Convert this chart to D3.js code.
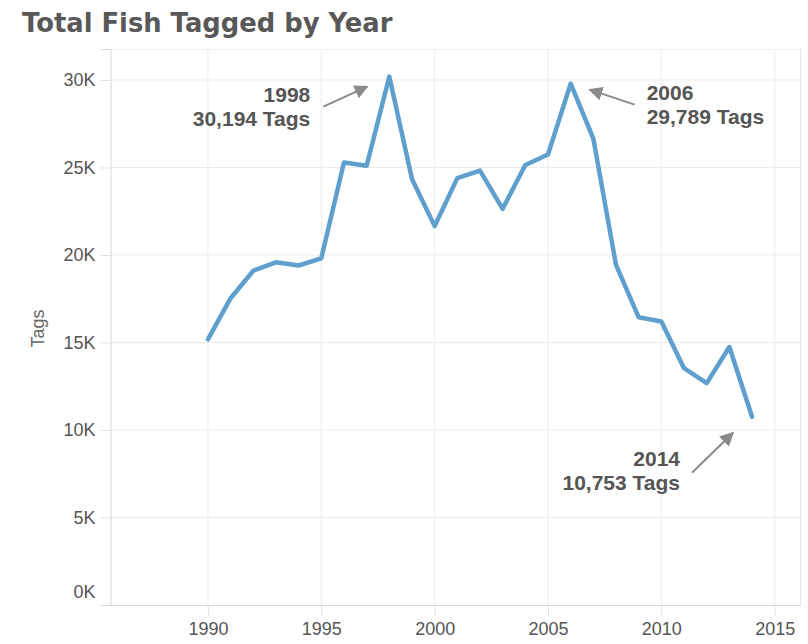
<!DOCTYPE html>
<html>
<head>
<meta charset="utf-8">
<script src="https://cdnjs.cloudflare.com/ajax/libs/d3/7.8.5/d3.min.js"></script>
<style>
  body { margin: 0; background: #fff; }
  svg { display: block; }
</style>
</head>
<body>
<div id="chart"></div>
<script>
// data
var years = [1990, 1991, 1992, 1993, 1994, 1995, 1996, 1997, 1998, 1999, 2000, 2001,
             2002, 2003, 2004, 2005, 2006, 2007, 2008, 2009, 2010, 2011, 2012, 2013, 2014];
var tags = [15180, 17530, 19100, 19580, 19400, 19810, 25280, 25100, 30194, 24340, 21650, 24390,
            24820, 22640, 25140, 25740, 29789, 26650, 19430, 16440, 16200, 13530, 12680, 14740, 10753];

var yTicks = [0, 5000, 10000, 15000, 20000, 25000, 30000];
var xTicks = [1990, 1995, 2000, 2005, 2010, 2015];

var noteYears = [1998, 2006, 2014];
var noteLabels = ["30,194 Tags", "29,789 Tags", "10,753 Tags"];

var W = 808, H = 644;
var pane = { left: 110, right: 801, top: 49, bottom: 605 };

var svg = d3.select('#chart').append('svg')
  .attr('width', W)
  .attr('height', H);

var x = d3.scaleLinear()
  .domain([1985.68, 2016.16])
  .range([pane.left, pane.right]);

var y = d3.scaleLinear()
  .domain([0, 31770])
  .range([pane.bottom, pane.top]);

// title
svg.append('text')
  .attr('x', 22)
  .attr('y', 32)
  .style('font-family', 'DejaVu Sans, sans-serif')
  .style('font-weight', 'bold')
  .style('font-size', '25.8px')
  .style('fill', '#585858')
  .text('Total Fish Tagged by Year');

// gridlines
var grid = svg.append('g');
grid.selectAll('.hgrid').data(yTicks.filter(function (d) { return d > 0; }))
  .enter().append('line')
  .attr('x1', pane.left).attr('x2', pane.right)
  .attr('y1', function (d) { return y(d); })
  .attr('y2', function (d) { return y(d); })
  .style('stroke', '#ececec').style('stroke-width', 1);
grid.selectAll('.vgrid').data(xTicks)
  .enter().append('line')
  .attr('y1', pane.top).attr('y2', pane.bottom)
  .attr('x1', function (d) { return x(d); })
  .attr('x2', function (d) { return x(d); })
  .style('stroke', '#ececec').style('stroke-width', 1);

// pane border
svg.append('line')
  .attr('x1', pane.left).attr('x2', pane.right)
  .attr('y1', pane.top + 0.5).attr('y2', pane.top + 0.5)
  .style('stroke', '#eeeeee');
svg.append('line')
  .attr('x1', pane.right - 0.5).attr('x2', pane.right - 0.5)
  .attr('y1', pane.top).attr('y2', pane.bottom)
  .style('stroke', '#e6e6e6');

// y axis
var yAxis = d3.axisLeft(y)
  .tickValues(yTicks)
  .tickSize(10)
  .tickPadding(5)
  .tickFormat(function (d) { return (d / 1000) + 'K'; });

var gy = svg.append('g')
  .attr('transform', 'translate(' + (pane.left + 0.5) + ',0)')
  .call(yAxis);
gy.select('.domain').style('stroke', '#d8d8d8');
gy.selectAll('.tick line').style('stroke', '#e0e0e0');
gy.selectAll('.tick text')
  .style('font-family', 'Liberation Sans, Arial, sans-serif')
  .style('font-size', '18px')
  .style('fill', '#555')
  .attr('dy', function (d) { return d === 0 ? '-0.4em' : '0.32em'; });

// x axis
var xAxis = d3.axisBottom(x)
  .tickValues(xTicks)
  .tickSize(10)
  .tickPadding(7)
  .tickFormat(d3.format('d'));

var gx = svg.append('g')
  .attr('transform', 'translate(0,' + (pane.bottom + 0.5) + ')')
  .call(xAxis);
gx.select('.domain').remove();
gx.append('line')
  .attr('x1', pane.left - 8).attr('x2', pane.right)
  .style('stroke', '#d8d8d8');
gx.selectAll('.tick line').style('stroke', '#e0e0e0');
gx.selectAll('.tick text')
  .style('font-family', 'Liberation Sans, Arial, sans-serif')
  .style('font-size', '18px')
  .style('fill', '#555');

// axis title
svg.append('text')
  .attr('transform', 'translate(44,' + y(15800) + ') rotate(-90)')
  .attr('text-anchor', 'middle')
  .style('font-family', 'Liberation Sans, Arial, sans-serif')
  .style('font-size', '18px')
  .style('fill', '#666')
  .text('Tags');

// the line
var data = years.map(function (d, i) { return { year: d, value: tags[i] }; });

var line = d3.line()
  .x(function (d) { return x(d.year); })
  .y(function (d) { return y(d.value); });

svg.append('path')
  .datum(data)
  .attr('d', line)
  .style('fill', 'none')
  .style('stroke', '#5f9fce')
  .style('stroke-width', 4.5)
  .style('stroke-linejoin', 'round')
  .style('stroke-linecap', 'round');

// annotations
svg.append('defs').append('marker')
  .attr('id', 'arrow')
  .attr('viewBox', '0 0 10 10')
  .attr('refX', 9).attr('refY', 5)
  .attr('markerWidth', 7).attr('markerHeight', 7)
  .attr('markerUnits', 'strokeWidth')
  .attr('orient', 'auto')
  .append('path')
  .attr('d', 'M0,0L10,5L0,10z')
  .style('fill', '#8a8a8a');

// offsets from the data point: arrow tail, arrow tip, text anchor
var noteLayout = [
  { tail: [-66, 30], tip: [-22, 10], text: [-79, 25], anchor: 'end' },
  { tail: [64, 21], tip: [19, 6], text: [76, 16], anchor: 'start' },
  { tail: [-60, 56], tip: [-19, 16], text: [-72, 49], anchor: 'end' }
];

noteYears.forEach(function (yr, i) {
  var px = x(yr), py = y(tags[years.indexOf(yr)]);
  var L = noteLayout[i];
  svg.append('line')
    .attr('x1', px + L.tail[0]).attr('y1', py + L.tail[1])
    .attr('x2', px + L.tip[0]).attr('y2', py + L.tip[1])
    .style('stroke', '#8a8a8a')
    .style('stroke-width', 2)
    .attr('marker-end', 'url(#arrow)');
  var t = svg.append('text')
    .attr('text-anchor', L.anchor)
    .style('font-family', 'Liberation Sans, Arial, sans-serif')
    .style('font-weight', 'bold')
    .style('font-size', '21px')
    .style('fill', '#555');
  t.append('tspan')
    .attr('x', px + L.text[0]).attr('y', py + L.text[1])
    .text(yr);
  t.append('tspan')
    .attr('x', px + L.text[0]).attr('y', py + L.text[1] + 24)
    .text(noteLabels[i]);
});
</script>
</body>
</html>
